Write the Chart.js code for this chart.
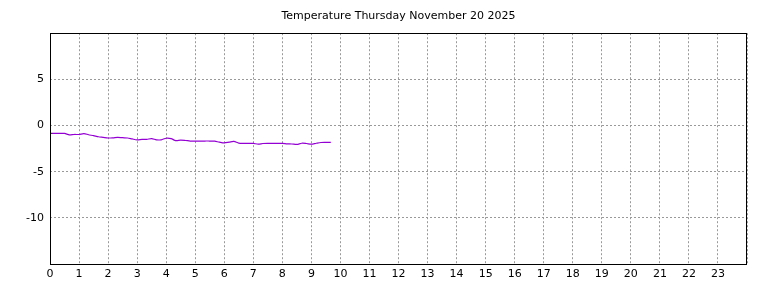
<!DOCTYPE html>
<html>
<head>
<meta charset="utf-8">
<script src="https://cdn.jsdelivr.net/npm/chart.js@4/dist/chart.umd.min.js"></script>
<style>
  html, body { margin: 0; padding: 0; background: #fff; }
  #wrap { width: 768px; height: 288px; }
</style>
</head>
<body>
<div id="wrap"><canvas id="chart" width="768" height="288"></canvas></div>
<script>
// hours of the day (10 minute steps)
const hours = [0, 0.17, 0.33, 0.5, 0.67, 0.83, 1, 1.17, 1.33, 1.5, 1.67, 1.83,
  2, 2.17, 2.33, 2.5, 2.67, 2.83, 3, 3.17, 3.33, 3.5, 3.67, 3.83,
  4, 4.17, 4.33, 4.5, 4.67, 4.83, 5, 5.17, 5.33, 5.5, 5.67, 5.83,
  6, 6.17, 6.33, 6.5, 6.67, 6.83, 7, 7.17, 7.33, 7.5, 7.67, 7.83,
  8, 8.17, 8.33, 8.5, 8.67, 8.83, 9, 9.17, 9.33, 9.5, 9.67];
const temps = [-0.86, -0.86, -0.86, -0.86, -1.02, -0.97, -0.97, -0.88, -1.0, -1.1, -1.22, -1.28,
  -1.35, -1.33, -1.28, -1.32, -1.35, -1.45, -1.55, -1.5, -1.5, -1.42, -1.55, -1.55,
  -1.38, -1.42, -1.64, -1.58, -1.62, -1.68, -1.68, -1.68, -1.68, -1.68, -1.7, -1.8,
  -1.88, -1.8, -1.72, -1.9, -1.93, -1.93, -1.93, -2.02, -1.95, -1.93, -1.93, -1.93,
  -1.93, -1.98, -2.0, -2.05, -1.92, -1.95, -2.02, -1.92, -1.84, -1.83, -1.83];
const yTicks = [-10, -5, 0, 5];
const xTicks = [0,1,2,3,4,5,6,7,8,9,10,11,12,13,14,15,16,17,18,19,20,21,22,23];

const points = hours.map((h, i) => ({x: h, y: temps[i]}));

const frame = {
  id: 'frame',
  afterDraw(chart) {
    const a = chart.chartArea, ctx = chart.ctx;
    ctx.save();
    ctx.strokeStyle = '#000';
    ctx.lineWidth = 1;
    ctx.strokeRect(Math.round(a.left) + 0.5, Math.round(a.top) + 0.5,
      Math.round(a.right - a.left) - 1, Math.round(a.bottom - a.top));
    ctx.restore();
  }
};

Chart.defaults.font.family = 'DejaVu Sans';
Chart.defaults.font.size = 11;
Chart.defaults.color = '#000';

new Chart(document.getElementById('chart'), {
  type: 'line',
  data: {
    datasets: [{
      data: points,
      borderColor: '#9400d3',
      borderWidth: 1.2,
      pointRadius: 0,
      tension: 0.3,
      fill: false
    }]
  },
  options: {
    responsive: false,
    animation: false,
    layout: { padding: { left: 0, right: 21, top: 0, bottom: 0 } },
    plugins: {
      legend: { display: false },
      tooltip: { enabled: false },
      title: {
        display: true,
        fullSize: false,
        text: 'Temperature Thursday November 20 2025',
        font: { size: 11, weight: 'normal' },
        color: '#000',
        padding: { top: 10, bottom: 10 }
      }
    },
    scales: {
      x: {
        type: 'linear',
        min: 0,
        max: 24,
        afterBuildTicks(s) { s.ticks = xTicks.concat([24]).map(v => ({value: v})); },
        afterFit(s) { s.height = 24; },
        ticks: {
          padding: 4,
          maxRotation: 0,
          autoSkip: false,
          callback: v => (v < 24 ? String(v) : '')
        },
        grid: { color: '#999', drawTicks: false },
        border: { display: false, dash: [2, 2] }
      },
      y: {
        min: -15,
        max: 10,
        afterBuildTicks(s) { s.ticks = yTicks.map(v => ({value: v})); },
        afterFit(s) { s.width = 50; },
        ticks: { padding: 6 },
        grid: { color: '#999', drawTicks: false },
        border: { display: false, dash: [2, 2] }
      }
    }
  },
  plugins: [frame]
});
</script>
</body>
</html>
